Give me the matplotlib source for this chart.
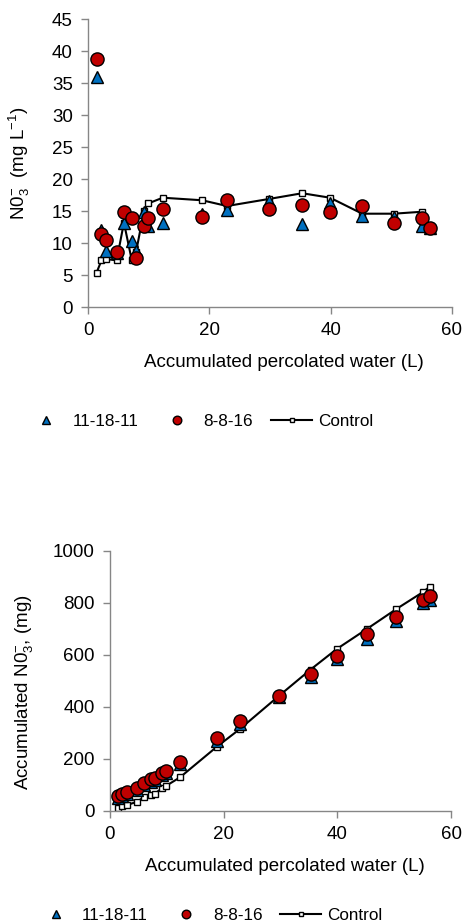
import matplotlib
matplotlib.use('Agg')
import matplotlib.pyplot as plt

plt.rcParams['font.family'] = ['Liberation Sans', 'DejaVu Sans']
plt.rcParams['mathtext.fontset'] = 'custom'
plt.rcParams['mathtext.rm'] = 'Liberation Sans'
plt.rcParams['mathtext.it'] = 'Liberation Sans:italic'
plt.rcParams['mathtext.bf'] = 'Liberation Sans:bold'

# agua percolada acumulada (L), misma para todas las series
water = [1.4, 2.2, 3.0, 4.7, 5.9, 7.2, 7.9, 9.2, 9.9, 12.3, 18.8, 22.9,
         29.8, 35.3, 39.9, 45.2, 50.4, 55.0, 56.3]

# concentracion de nitrato (mg/L)
conc_111811 = [36.0, 12.0, 8.8, 8.5, 13.2, 10.4, 8.7, 14.8, 12.6, 13.2, 14.6,
               15.1, 16.6, 13.0, 16.2, 14.3, 14.1, 12.7, 12.3]
conc_8816 = [38.8, 11.35, 10.5, 8.65, 14.8, 13.9, 7.65, 12.7, 13.9, 15.3, 14.1,
             16.8, 15.4, 15.9, 14.8, 15.8, 13.2, 13.9, 12.4]
conc_control = [5.4, 7.3, 7.5, 7.3, 13.2, 7.3, 8.6, 15.0, 16.2, 17.1, 16.7,
                15.8, 16.9, 17.8, 17.1, 14.6, 14.6, 14.9, 12.2]

# nitrato acumulado (mg)
acc_111811 = [50, 58, 66, 80, 98, 112, 118, 136, 144, 178, 270, 335, 438,
              515, 585, 662, 730, 797, 810]
acc_8816 = [56, 63, 71, 86, 106, 121, 127, 145, 154, 189, 280, 345, 442,
            527, 595, 678, 746, 812, 826]
acc_control = [9, 17, 22, 34, 51, 60, 66, 87, 96, 128, 246, 315, 443, 543,
               622, 699, 776, 840, 862]

labels = ['11-18-11', '8-8-16', 'Control']
blue = '#0070C0'
red = '#C00000'
gray = '#868686'

fig = plt.figure(figsize=(4.64, 9.22), dpi=100)
ax1 = fig.add_axes([0.19, 0.667, 0.784, 0.312])
ax2 = fig.add_axes([0.237, 0.1207, 0.735, 0.282])


def draw(ax, yc, yt, yr):
    lc, = ax.plot(water, yc, color='black', lw=1.5, marker='s', ms=5,
                  mfc='white', mec='black', mew=1, zorder=2)
    lt, = ax.plot(water, yt, ls='none', marker='^', ms=9, mfc=blue,
                  mec='black', mew=1, zorder=3)
    lr, = ax.plot(water, yr, ls='none', marker='o', ms=9.5, mfc=red,
                  mec='black', mew=1, zorder=4)
    for s in ['top', 'right']:
        ax.spines[s].set_visible(False)
    for s in ['left', 'bottom']:
        ax.spines[s].set_color(gray)
        ax.spines[s].set_linewidth(1)
    ax.tick_params(direction='out', length=5, width=1, color=gray,
                   labelsize=13.5, pad=6)
    ax.set_xlim(0, 60)
    ax.set_xticks([0, 20, 40, 60])
    ax.set_xlabel('Accumulated percolated water (L)', fontsize=13.5)
    return lt, lr, lc


h1 = draw(ax1, conc_control, conc_111811, conc_8816)
ax1.set_ylim(0, 45)
ax1.set_yticks(range(0, 50, 5))
ax1.set_ylabel(r'N0$_3^{-}$  (mg L$^{-1}$)', fontsize=13.5)
ax1.yaxis.set_label_coords(-0.154, 0.5)
ax1.xaxis.set_label_coords(0.538, -0.165)

h2 = draw(ax2, acc_control, acc_111811, acc_8816)
ax2.set_ylim(0, 1000)
ax2.set_yticks(range(0, 1200, 200))
ax2.set_ylabel(r'Accumulated N0$_3^{-}$, (mg)', fontsize=13.5)
ax2.yaxis.set_label_coords(-0.22, 0.456)
ax2.xaxis.set_label_coords(0.512, -0.18)

leg_kw = dict(ncol=3, frameon=False, fontsize=12.3, handlelength=2.4,
              handletextpad=0.35, columnspacing=1.05, markerscale=0.65,
              loc='center')
fig.legend(h1, labels, bbox_to_anchor=(0.43, 1 - 421.7 / 922), **leg_kw)
fig.legend(h2, labels, bbox_to_anchor=(0.45, 1 - 915 / 922), **leg_kw)

fig.savefig('out.png', dpi=100)
